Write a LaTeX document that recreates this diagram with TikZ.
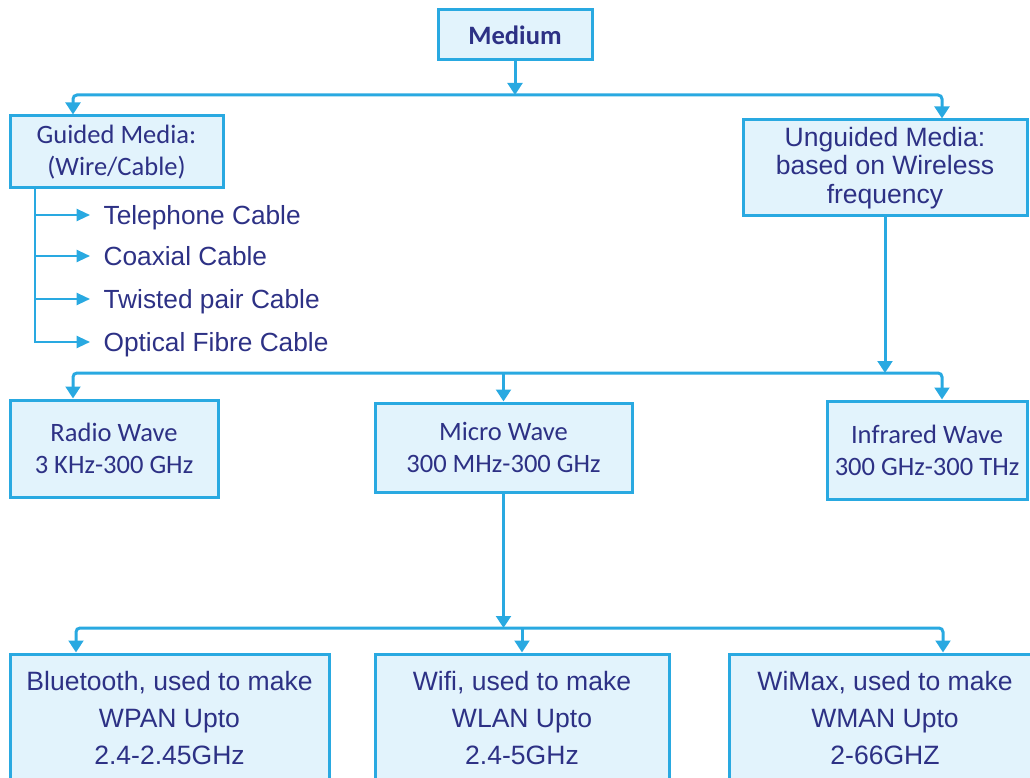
\documentclass[tikz,border=0pt]{standalone}
\usepackage{fontspec}
\setmainfont{Liberation Sans}
\newfontfamily\calibfont{Carlito}
\usepackage{xcolor}
\usetikzlibrary{arrows.meta, calc, positioning}

\definecolor{wireblue}{HTML}{29A9E1}
\definecolor{boxfill}{HTML}{E2F3FC}
\definecolor{inkblue}{HTML}{2D3185}

\begin{document}
\begin{tikzpicture}[x=0.75pt, y=-0.75pt,
  box/.style={draw=wireblue, fill=boxfill, line width=2.25pt, text=inkblue, align=center, inner sep=0pt},
  cbox/.style={box, font=\calibfont\fontsize{19.9}{24}\selectfont},
  abox/.style={box, font=\fontsize{19.9}{27.75}\selectfont},
  link/.style={wireblue, line width=2.25pt, rounded corners=3pt},
  arr/.style={link, -{Triangle[width=11pt, length=9pt]}},
  twoarr/.style={link, {Triangle[width=11pt, length=9pt]}-{Triangle[width=11pt, length=9pt]}},
  thinarr/.style={wireblue, line width=1.6pt, -{Triangle[width=9pt, length=10pt]}},
  cable/.style={text=inkblue, font=\fontsize{19.7}{24}\selectfont, anchor=west, inner xsep=10pt, inner ysep=0pt, text height=14pt, text depth=0pt}
]
  \path[use as bounding box] (0,0) rectangle (1030,777);
  \clip (0,0) rectangle (1030,777);

  % top level
  \node[cbox, font=\calibfont\bfseries\fontsize{19.9}{24}\selectfont, minimum width=115.5pt, minimum height=37.5pt] (medium) at (515,35) {Medium};
  \node[cbox, minimum width=159.75pt, minimum height=54pt] (guided) at (116.5,152) {Guided Media:\\(Wire/Cable)};
  \node[box, font=\fontsize{19.9}{21.4}\selectfont, minimum width=213pt, minimum height=72pt] (unguided) at (885,168) {Unguided Media:\\based on Wireless\\frequency};

  \coordinate (bus1) at (515,95);
  \coordinate (b1l) at (73,95);
  \coordinate (b1r) at (942,95);
  \draw[arr] (medium.south) -- (bus1);
  \draw[twoarr] (guided.north -| b1l) -- (b1l) -- (b1r) -- (unguided.north -| b1r);

  % cables
  \node[cable] (tel) at (90,215) {Telephone Cable};
  \node[cable] (coax) at (90,256) {Coaxial Cable};
  \node[cable] (twist) at (90,299) {Twisted pair Cable};
  \node[cable] (optic) at (90,342) {Optical Fibre Cable};
  \coordinate (gtop) at (35,188);
  \foreach \c in {tel,coax,twist,optic}
    \draw[thinarr] (gtop) |- (\c.west);

  % waves
  \node[cbox, minimum width=156pt, minimum height=72.75pt] (radio) at (114,448.5) {Radio Wave\\3 KHz-300 GHz};
  \node[cbox, minimum width=192.75pt, minimum height=66.75pt] (micro) at (503.5,447.5) {Micro Wave\\300 MHz-300 GHz};
  \node[cbox, minimum width=150pt, minimum height=73.5pt] (infra) at (927,450) {Infrared Wave\\300 GHz-300 THz};

  \coordinate (b2m) at (885,373);
  \coordinate (b2l) at (73,373);
  \coordinate (b2r) at (942,373);
  \draw[arr] (unguided.south) -- (b2m);
  \draw[twoarr] (radio.north -| b2l) -- (b2l) -- (b2r) -- (infra.north -| b2r);
  \draw[arr] (micro.north |- b2l) -- (micro.north);

  % wireless standards
  \node[abox, minimum width=239.25pt, minimum height=96pt] (bluetooth) at (169.5,718) {Bluetooth, used to make\\WPAN Upto\\2.4-2.45GHz};
  \node[abox, minimum width=220.5pt, minimum height=96pt] (wifi) at (522,718) {Wifi, used to make\\WLAN Upto\\2.4-5GHz};
  \node[abox, minimum width=234pt, minimum height=96pt] (wimax) at (885,718) {WiMax, used to make\\WMAN Upto\\2-66GHZ};

  \coordinate (b3m) at (503.5,628);
  \coordinate (b3l) at (76,628);
  \coordinate (b3r) at (943,628);
  \draw[arr] (micro.south) -- (b3m);
  \draw[twoarr] (bluetooth.north -| b3l) -- (b3l) -- (b3r) -- (wimax.north -| b3r);
  \draw[arr] (wifi.north |- b3l) -- (wifi.north);

\end{tikzpicture}
\end{document}
